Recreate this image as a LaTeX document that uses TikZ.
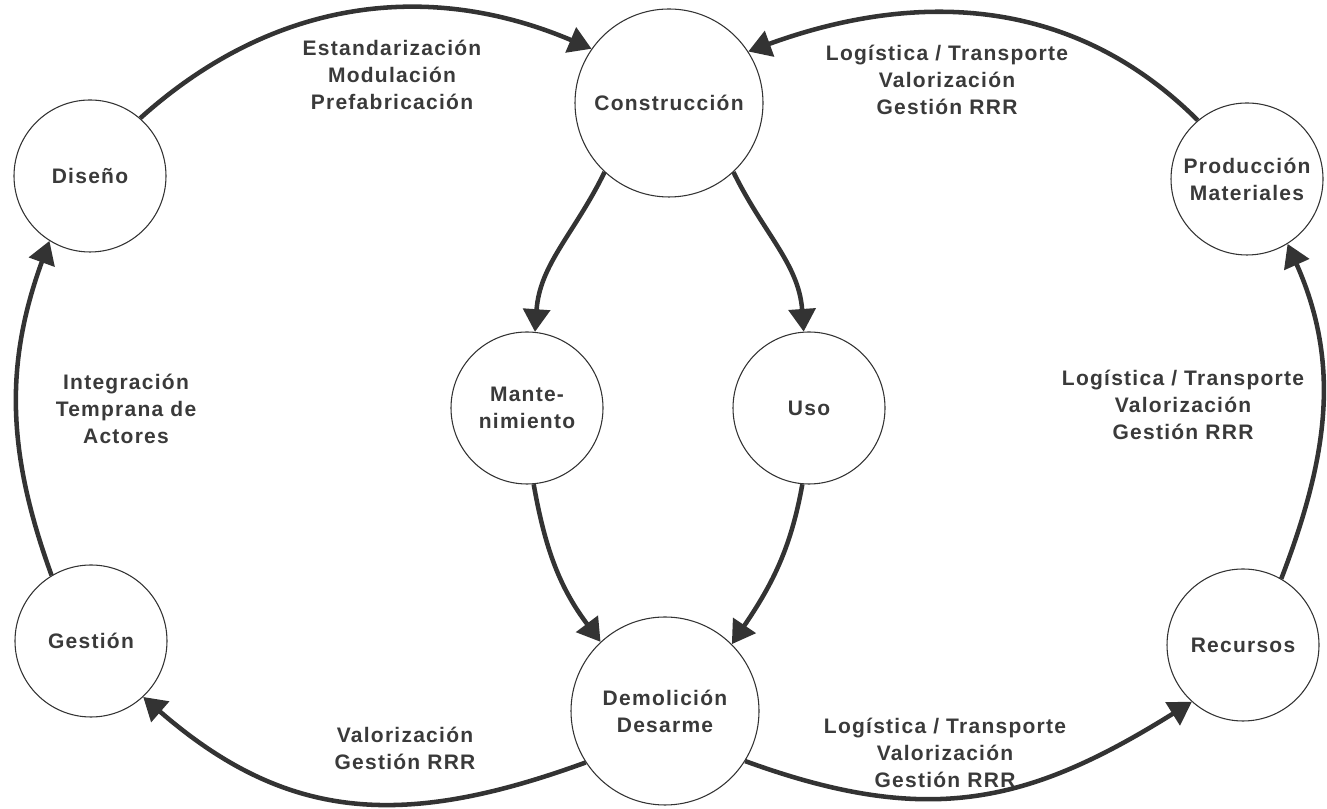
\documentclass[tikz,border=0pt]{standalone}
\usepackage{fontspec}
\setmainfont{Liberation Sans}[LetterSpace=6]
\usetikzlibrary{arrows.meta}
\definecolor{ink}{HTML}{333333}
\definecolor{txt}{HTML}{3A3A3A}
\begin{document}
\begin{tikzpicture}[x=0.75pt,y=0.75pt,
  stage/.style={circle, draw=ink, line width=0.8pt, fill=white, inner sep=0pt, align=center, text=txt,
    font=\bfseries\fontsize{15.75}{20.25}\selectfont},
  bigstage/.style={stage, minimum size=141pt},
  smallstage/.style={stage, minimum size=114pt},
  flow/.style={draw=ink, line width=3.4pt, -{Triangle[length=17pt,width=20pt]}},
  lbl/.style={align=center, text=txt, inner sep=0pt, font=\bfseries\fontsize{15.75}{20.25}\selectfont}]
\useasboundingbox (0,0) rectangle (1327,809);

\node[smallstage] (dis) at (90,633) {Diseño};
\node[bigstage]   (con) at (669,706) {Construcción};
\node[smallstage] (pro) at (1247,630) {Producción\\Materiales};
\node[smallstage] (man) at (527,401) {Mante-\\nimiento};
\node[smallstage] (uso) at (809,401) {Uso};
\node[smallstage] (ges) at (91,168) {Gestión};
\node[bigstage]   (dem) at (665,98) {Demolición\\Desarme};
\node[smallstage] (rec) at (1243,164) {Recursos};

\node[lbl] (l1) at (392,734) {Estandarización\\Modulación\\Prefabricación};
\node[lbl] (l2) at (947,729) {Logística / Transporte\\Valorización\\Gestión RRR};
\node[lbl] (l3) at (126,400) {Integración\\Temprana de\\Actores};
\node[lbl] (l4) at (1183,404) {Logística / Transporte\\Valorización\\Gestión RRR};
\node[lbl] (l5) at (405,60.5) {Valorización\\Gestión RRR};
\node[lbl] (l6) at (945,56) {Logística / Transporte\\Valorización\\Gestión RRR};

\draw[flow] (dis.49) to[out=42,in=157] (con.145);
\draw[flow] (pro.130) to[out=135,in=20] (con.33);
\draw[flow] (con.-133) to[out=-116,in=86] (man.84);
\draw[flow] (con.-47) to[out=-64,in=94] (uso.94);
\draw[flow] (man.-85) to[out=-80,in=127] (dem.133);
\draw[flow] (uso.-95) to[out=-100,in=56] (dem.45);
\draw[flow] (dem.213) to[out=200,in=-41,looseness=1.1] (ges.-47);
\draw[flow] (dem.-32) to[out=-20,in=212,looseness=1.1] (rec.228);
\draw[flow] (rec.60) to[out=69,in=-66] (pro.-58);
\draw[flow] (ges.121) to[out=110,in=250] (dis.238);
\end{tikzpicture}
\end{document}
